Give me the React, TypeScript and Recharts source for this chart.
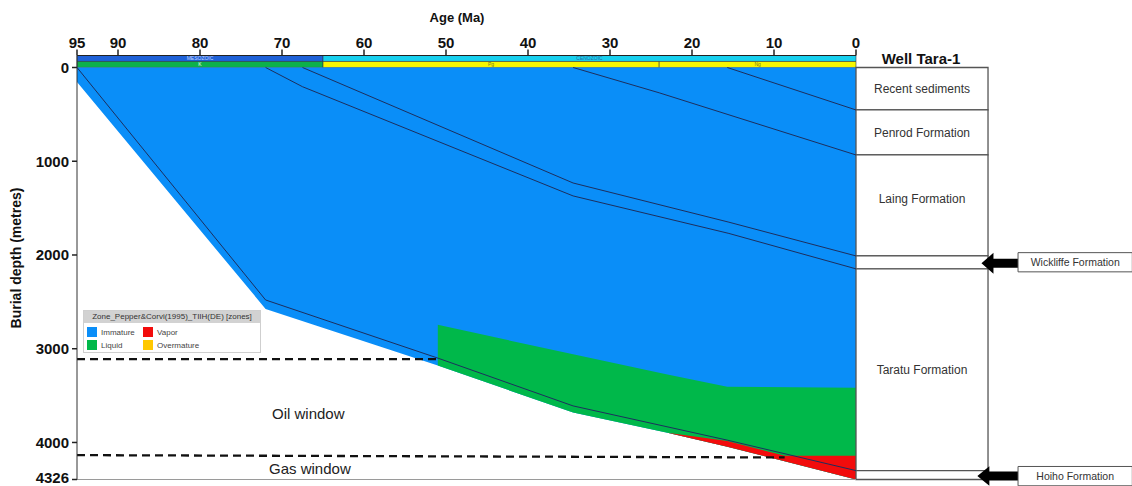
import {
  ComposedChart,
  Area,
  Line,
  XAxis,
  YAxis,
  ReferenceArea,
  ReferenceLine,
  ReferenceDot,
  Legend,
  Customized,
} from "recharts";

const FONT = '"Liberation Sans", Arial, Helvetica, sans-serif';

const BLUE = "#0a8ef8";
const GREEN = "#00b84a";
const RED = "#f20c0c";
const YELLOW = "#ffc800";
const HORIZON = "#1d2f5e";

// age axis (Ma) and depth axis (m)
const ageTicks = [95, 90, 80, 70, 60, 50, 40, 30, 20, 10, 0];
const depthTicks = [0, 1000, 2000, 3000, 4000, 4395];
const depthTickLabels = ["0", "1000", "2000", "3000", "4000", "4326"];

// base of section
const basementAge = [95, 72, 51, 34.5, 23, 15.7, 0];
const basementDepth = [155, 2575, 3180, 3680, 3895, 4045, 4395];

// maturity zones
const liquidAge = [51, 34.5, 23, 15.7, 0];
const liquidTop = [2745, 3060, 3275, 3405, 3415];
const liquidBase = [3180, 3680, 3895, 4045, 4395];

const vaporAge = [23, 15.7, 8.7, 0];
const vaporTop = [3895, 3985, 4142, 4142];
const vaporBase = [3895, 4045, 4200, 4395];

// burial curves of the horizons
const hoihoTopAge = [95, 72, 51, 34.5, 15.7, 0];
const hoihoTopDepth = [0, 2480, 3100, 3610, 3975, 4300];
const taratuTopAge = [72, 67.5, 34.5, 15.5, 0];
const taratuTopDepth = [0, 205, 1370, 1770, 2148];
const wickliffeTopAge = [67.5, 34.5, 15.5, 0];
const wickliffeTopDepth = [0, 1232, 1650, 2010];
const laingTopAge = [34.5, 24, 0];
const laingTopDepth = [0, 270, 933];
const penrodTopAge = [15.7, 0];
const penrodTopDepth = [0, 453];

// windows
const oilWindowAge = [95, 51];
const oilWindowDepth = [3110, 3110];
const gasWindowAge = [95, 8.7];
const gasWindowDepth = [4135, 4160];

// well column
const formationNames = [
  "Recent sediments",
  "Penrod Formation",
  "Laing Formation",
  "Wickliffe Formation",
  "Taratu Formation",
  "Hoiho Formation",
];
const formationTops = [0, 453, 933, 2010, 2148, 4300];
const formationBases = [453, 933, 2010, 2148, 4300, 4395];

// time scale bar
const eras = [
  { name: "MESOZOIC", from: 95, to: 65, fill: "#1f62d8", text: "#c9d6ff" },
  { name: "CENOZOIC", from: 65, to: 0, fill: "#18d0ef", text: "#2a6aa0" },
];
const periods = [
  { name: "K", from: 95, to: 65, fill: "#0db14b", text: "#e8ffe8" },
  { name: "Pg", from: 65, to: 24, fill: "#f7f700", text: "#7a7a20" },
  { name: "Ng", from: 24, to: 0, fill: "#f7f700", text: "#7a7a20" },
];

const legendItems = [
  { name: "Immature", color: BLUE },
  { name: "Vapor", color: RED },
  { name: "Liquid", color: GREEN },
  { name: "Overmature", color: YELLOW },
];

const zip = (ages: number[], depths: number[]) =>
  ages.map((age, i) => ({ age, depth: depths[i] }));
const zipRange = (ages: number[], tops: number[], bases: number[]) =>
  ages.map((age, i) => ({ age, top: tops[i], base: bases[i] }));

const immatureData = zipRange(
  basementAge,
  basementAge.map(() => 0),
  basementDepth
);
const liquidData = zipRange(liquidAge, liquidTop, liquidBase);
const vaporData = zipRange(vaporAge, vaporTop, vaporBase);

const horizons = [
  zip(hoihoTopAge, hoihoTopDepth),
  zip(taratuTopAge, taratuTopDepth),
  zip(wickliffeTopAge, wickliffeTopDepth),
  zip(laingTopAge, laingTopDepth),
  zip(penrodTopAge, penrodTopDepth),
];

const Arrow = (p: any) => {
  const { x, y, width, height } = p;
  const cy = y + height / 2;
  const head = 12;
  const s = 4.5;
  const pts = [
    [x, cy],
    [x + head, y],
    [x + head, cy - s],
    [x + width, cy - s],
    [x + width, cy + s],
    [x + head, cy + s],
    [x + head, y + height],
  ]
    .map((q) => q.join(","))
    .join(" ");
  return <polygon points={pts} fill="#000" />;
};

// last depth label sits on the bottom edge, nudge it up a little
const DepthTick = (p: any) => {
  const { x, y, payload } = p;
  const i = depthTicks.indexOf(payload.value);
  const last = i === depthTicks.length - 1;
  return (
    <text
      x={x}
      y={last ? y - 2 : y}
      dy="0.355em"
      textAnchor="end"
      fontSize={15}
      fontWeight="bold"
      fill="#111"
      fontFamily={FONT}
    >
      {depthTickLabels[i]}
    </text>
  );
};

const LegendBox = () => (
  <div
    style={{
      width: 176,
      height: 41,
      border: "1px solid #cfcfcf",
      background: "#fff",
      fontFamily: FONT,
      fontSize: 8,
      color: "#444",
      position: "relative",
    }}
  >
    <div
      style={{
        background: "#d2d2d2",
        height: 12,
        lineHeight: "12px",
        textAlign: "center",
        color: "#333",
      }}
    >
      Zone_Pepper&amp;Corvi(1995)_TIIH(DE) [zones]
    </div>
    {legendItems.map((it, i) => (
      <div
        key={it.name}
        style={{
          position: "absolute",
          left: i % 2 === 0 ? 3 : 59,
          top: i < 2 ? 16 : 29,
          display: "flex",
          alignItems: "center",
        }}
      >
        <span
          style={{
            display: "inline-block",
            width: 10,
            height: 10,
            background: it.color,
            marginRight: 4,
          }}
        />
        {it.name}
      </div>
    ))}
  </div>
);

const Titles = () => (
  <g fontFamily={FONT} fill="#111" fontWeight="bold">
    <text x={457} y={22} textAnchor="middle" fontSize={13}>
      Age (Ma)
    </text>
    <text
      transform="translate(21,258) rotate(-90)"
      textAnchor="middle"
      fontSize={14}
    >
      Burial depth (metres)
    </text>
    <text x={921} y={64} textAnchor="middle" fontSize={15}>
      Well Tara-1
    </text>
  </g>
);

export default function App() {
  return (
    <div style={{ position: "absolute", left: 0, top: 0, fontFamily: FONT }}>
      <ComposedChart
        width={1132}
        height={486}
        margin={{ top: 25.5, right: 276, bottom: 6.5, left: 17 }}
      >
        <XAxis
          xAxisId={0}
          type="number"
          dataKey="age"
          orientation="top"
          domain={[0, 95]}
          reversed
          ticks={ageTicks}
          interval={0}
          height={30}
          tickSize={6}
          tickMargin={2}
          axisLine={{ stroke: "#222" }}
          tickLine={{ stroke: "#222", strokeWidth: 1.5 }}
          tick={{ fontSize: 15, fontWeight: "bold", fill: "#111", fontFamily: FONT }}
        />
        <YAxis
          yAxisId={0}
          type="number"
          domain={[-128, 4395]}
          reversed
          allowDataOverflow
          ticks={depthTicks}
          interval={0}
          width={60}
          tickSize={5}
          tickMargin={3}
          axisLine={{ stroke: "#333" }}
          tickLine={{ stroke: "#222", strokeWidth: 1.5 }}
          tick={<DepthTick />}
        />

        {eras.map((e) => (
          <ReferenceArea
            key={e.name}
            x1={e.from}
            x2={e.to}
            y1={-128}
            y2={-64}
            fill={e.fill}
            fillOpacity={1}
            stroke="#2b3b4b"
            strokeWidth={0.6}
            ifOverflow="visible"
            label={{ value: e.name, position: "center", fontSize: 5, fill: e.text, fontFamily: FONT }}
          />
        ))}
        {periods.map((p) => (
          <ReferenceArea
            key={p.name}
            x1={p.from}
            x2={p.to}
            y1={-64}
            y2={0}
            fill={p.fill}
            fillOpacity={1}
            stroke="#2b3b4b"
            strokeWidth={0.6}
            ifOverflow="visible"
            label={{ value: p.name, position: "center", fontSize: 5, fill: p.text, fontFamily: FONT }}
          />
        ))}

        <Area
          data={immatureData}
          dataKey={(d: any) => [d.top, d.base]}
          type="linear"
          stroke="none"
          fill={BLUE}
          fillOpacity={1}
          activeDot={false}
          isAnimationActive={false}
        />
        <Area
          data={liquidData}
          dataKey={(d: any) => [d.top, d.base]}
          type="linear"
          stroke="none"
          fill={GREEN}
          fillOpacity={1}
          activeDot={false}
          isAnimationActive={false}
        />
        <Area
          data={vaporData}
          dataKey={(d: any) => [d.top, d.base]}
          type="linear"
          stroke="none"
          fill={RED}
          fillOpacity={1}
          activeDot={false}
          isAnimationActive={false}
        />

        {horizons.map((h, i) => (
          <Line
            key={i}
            data={h}
            dataKey="depth"
            type="linear"
            stroke={HORIZON}
            strokeWidth={1}
            dot={false}
            activeDot={false}
            isAnimationActive={false}
          />
        ))}

        <Line
          data={zip(oilWindowAge, oilWindowDepth)}
          dataKey="depth"
          type="linear"
          stroke="#111"
          strokeWidth={2.3}
          strokeDasharray="8 5"
          dot={false}
          activeDot={false}
          isAnimationActive={false}
        />
        <Line
          data={zip(gasWindowAge, gasWindowDepth)}
          dataKey="depth"
          type="linear"
          stroke="#111"
          strokeWidth={2.3}
          strokeDasharray="8 5"
          dot={false}
          activeDot={false}
          isAnimationActive={false}
        />

        <ReferenceLine y={4395} stroke="#9a9a9a" strokeWidth={1.2} ifOverflow="visible" />

        <ReferenceDot
          x={66.8}
          y={3696}
          r={0}
          fill="none"
          stroke="none"
          ifOverflow="visible"
          label={{ value: "Oil window", position: "center", fontSize: 15, fill: "#222", fontFamily: FONT }}
        />
        <ReferenceDot
          x={66.6}
          y={4283}
          r={0}
          fill="none"
          stroke="none"
          ifOverflow="visible"
          label={{ value: "Gas window", position: "center", fontSize: 15, fill: "#222", fontFamily: FONT }}
        />

        {formationNames.map((name, i) => {
          const inside = name !== "Wickliffe Formation" && name !== "Hoiho Formation";
          return (
            <ReferenceArea
              key={name}
              x1={0}
              x2={-16.1}
              y1={formationTops[i]}
              y2={formationBases[i]}
              fill="#fff"
              fillOpacity={1}
              stroke="#555"
              strokeWidth={1.3}
              ifOverflow="visible"
              label={
                inside
                  ? {
                      value: name,
                      position: "center",
                      fontSize: 12,
                      fill: "#333",
                      fontFamily: FONT,
                      dy: name === "Laing Formation" ? -7 : 0,
                    }
                  : undefined
              }
            />
          );
        })}

        <ReferenceArea
          x1={-15.3}
          x2={-19.76}
          y1={1977}
          y2={2201}
          ifOverflow="visible"
          shape={(p: any) => <Arrow {...p} />}
        />
        <ReferenceArea
          x1={-14.8}
          x2={-19.76}
          y1={4254}
          y2={4462}
          ifOverflow="visible"
          shape={(p: any) => <Arrow {...p} />}
        />
        <ReferenceArea
          x1={-19.76}
          x2={-33.7}
          y1={1975}
          y2={2180}
          fill="#fff"
          fillOpacity={1}
          stroke="#555"
          strokeWidth={1}
          ifOverflow="visible"
          label={{ value: "Wickliffe Formation", position: "center", fontSize: 10.5, fill: "#333", fontFamily: FONT }}
        />
        <ReferenceArea
          x1={-19.76}
          x2={-33.7}
          y1={4256}
          y2={4462}
          fill="#fff"
          fillOpacity={1}
          stroke="#555"
          strokeWidth={1}
          ifOverflow="visible"
          label={{ value: "Hoiho Formation", position: "center", fontSize: 10.5, fill: "#333", fontFamily: FONT }}
        />

        <Legend
          verticalAlign="middle"
          align="center"
          layout="horizontal"
          wrapperStyle={{ left: 83, top: 310, width: 178, height: 42 }}
          content={() => <LegendBox />}
        />
        <Customized component={Titles} />
      </ComposedChart>
    </div>
  );
}
